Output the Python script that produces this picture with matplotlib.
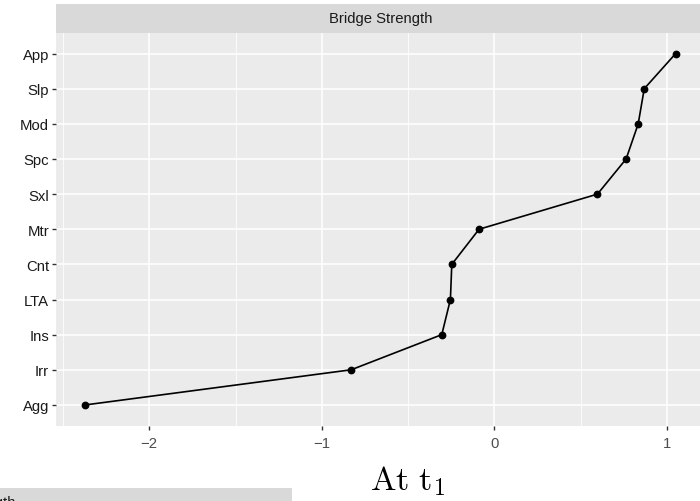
import matplotlib
matplotlib.use("Agg")
import matplotlib.pyplot as plt
from matplotlib.patches import Rectangle

plt.rcParams['font.family'] = ['Liberation Sans', 'DejaVu Sans']
plt.rcParams['mathtext.fontset'] = 'cm'

# data, bottom to top
labels = ['Agg', 'Irr', 'Ins', 'LTA', 'Cnt', 'Mtr', 'Sxl', 'Spc', 'Mod', 'Slp', 'App']
strength = [-2.37, -0.83, -0.305, -0.255, -0.247, -0.089, 0.597, 0.763, 0.833, 0.868, 1.05]
xticks = [-2, -1, 0, 1]
xminor = [-2.5, -1.5, -0.5, 0.5]

W, H = 700, 502
fig = plt.figure(figsize=(W / 100, H / 100), dpi=100)

# panel (it runs slightly past the right edge, as in the source)
left, right, top, bottom = 56, 705, 33.5, 427
ax = fig.add_axes([left / W, 1 - bottom / H, (right - left) / W, (bottom - top) / H])
ax.set_facecolor('#EBEBEB')
for s in ax.spines.values():
    s.set_visible(False)

ypos = list(range(1, len(labels) + 1))
ax.set_xlim(-2.54, 1.22)
ax.set_ylim(0.4, len(labels) + 0.6)
ax.set_xticks(xticks)
ax.set_xticklabels(['\u22122', '\u22121', '0', '1'])
ax.set_xticks(xminor, minor=True)
ax.set_yticks(ypos)
ax.set_yticklabels(labels)
ax.grid(True, which='major', color='white', linewidth=1.1)
ax.grid(True, which='minor', axis='x', color='white', linewidth=0.55)
ax.set_axisbelow(True)
ax.tick_params(which='major', length=3, width=1, color='#333333',
               labelsize=10.7, labelcolor='#1a1a1a', pad=2)
ax.tick_params(axis='x', labelcolor='#4d4d4d', pad=4)
ax.tick_params(which='minor', length=0)

ax.plot(strength, ypos, color='black', linewidth=1.2, marker='o',
        markersize=4.6, clip_on=False, zorder=3)

# facet strip
sax = fig.add_axes([left / W, 1 - top / H, (right - left) / W, (top - 5) / H])
sax.set_facecolor('#D9D9D9')
sax.set_xticks([])
sax.set_yticks([])
for s in sax.spines.values():
    s.set_visible(False)
sax.text(0.5, 0.5, 'Bridge Strength', ha='center', va='center',
         fontsize=10.7, color='#1a1a1a', transform=sax.transAxes)

# x label
fig.text(408 / W, 1 - 490 / H, r'$\mathrm{At\ t_1}$', ha='center', va='baseline',
         fontsize=24.5, color='black')

# cropped strip of the next panel
fig.patches.append(Rectangle((0, 0), 292 / W, (H - 489) / H, transform=fig.transFigure,
                             facecolor='#D9D9D9', edgecolor='none', zorder=0))
fig.text(15 / W, 1 - 503 / H, 'Bridge Strength', ha='right', va='center',
         fontsize=10.7, color='#1a1a1a')

fig.savefig('out.png', dpi=100)
